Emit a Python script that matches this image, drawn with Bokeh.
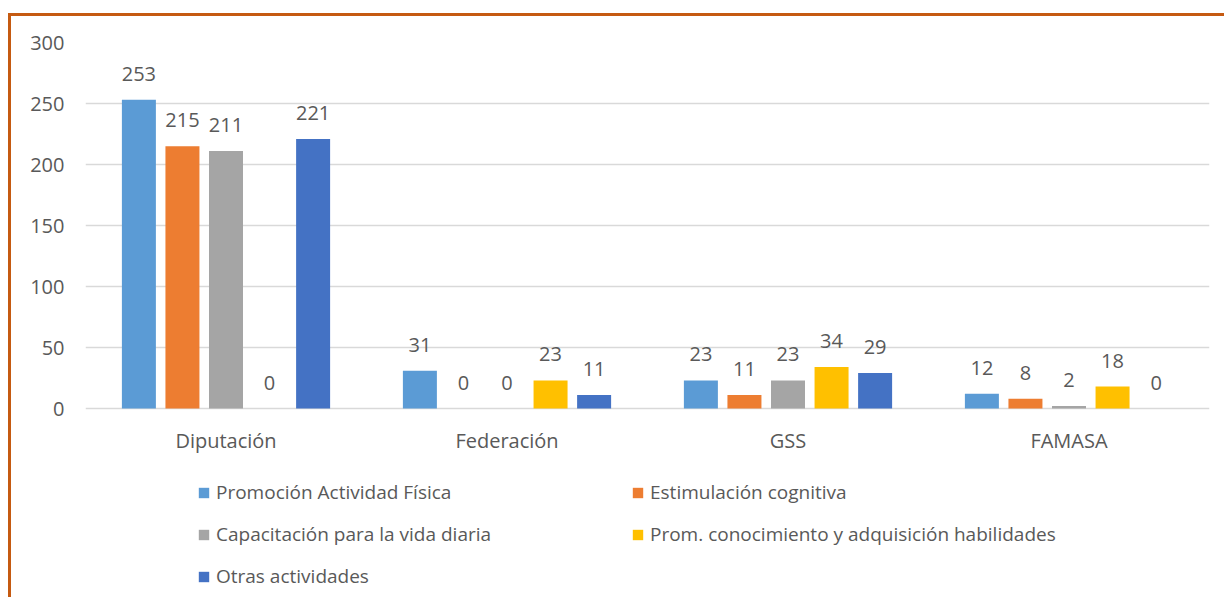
from bokeh.plotting import figure
from bokeh.models import (ColumnDataSource, FactorRange, Legend, LegendItem, LabelSet,
                          Range1d, FixedTicker)
from bokeh.core.properties import value
from bokeh.transform import dodge
from bokeh.embed import file_html
from bokeh.resources import INLINE

categories = ["Diputación", "Federación", "GSS", "FAMASA"]
series_names = ["Promoción Actividad Física", "Estimulación cognitiva",
                "Capacitación para la vida diaria",
                "Prom. conocimiento y adquisición habilidades", "Otras actividades"]
promocion = [253, 31, 23, 12]
estimulacion = [215, 0, 11, 8]
capacitacion = [211, 0, 23, 2]
conocimiento = [0, 23, 34, 18]
otras = [221, 11, 29, 0]
y_ticks = [0, 50, 100, 150, 200, 250, 300]

colors = ["#5B9BD5", "#ED7D31", "#A5A5A5", "#FFC000", "#4472C4"]
keys = ["promocion", "estimulacion", "capacitacion", "conocimiento", "otras"]
values = [promocion, estimulacion, capacitacion, conocimiento, otras]
offsets = [-0.31, -0.155, 0.0, 0.155, 0.31]

data = {"cat": categories}
for k, v in zip(keys, values):
    data[k] = v
    data[k + "_lbl"] = [str(x) for x in v]
src = ColumnDataSource(data)

FONT = "Open Sans"
TXT = "#595959"
FS = "20px"

# layout: frame extends below the value axis so the legend fits inside it
H = 584
TOP = 26
PX_PER_UNIT = 366 / 300.0
frame_h = H - TOP
y_start = 300 - frame_h / PX_PER_UNIT

p = figure(width=1216, height=H, output_backend="svg", toolbar_location=None,
           x_range=FactorRange(factors=categories, range_padding=0),
           y_range=Range1d(y_start, 300),
           min_border_left=74, min_border_right=18, min_border_top=TOP, min_border_bottom=0)
p.styles = {"margin-left": "8px", "margin-top": "13px", "border-top": "3px solid #C55A11",
            "border-left": "3px solid #C55A11"}
p.outline_line_color = None
p.xgrid.grid_line_color = None
p.ygrid.grid_line_color = "#D9D9D9"
p.ygrid.grid_line_width = 1.5
p.yaxis.ticker = FixedTicker(ticks=y_ticks)
p.yaxis.axis_line_color = None
p.yaxis.major_tick_line_color = None
p.yaxis.minor_tick_line_color = None
p.yaxis.major_tick_out = 0
p.yaxis.major_tick_in = 0
p.yaxis.major_label_standoff = 21
p.xaxis.fixed_location = 0
p.xaxis.axis_line_color = None
p.xaxis.major_tick_line_color = None
p.xaxis.major_tick_out = 0
p.xaxis.major_tick_in = 0
p.xaxis.major_label_standoff = 18
for ax in (p.xaxis, p.yaxis):
    ax.major_label_text_font = FONT
    ax.major_label_text_font_size = FS
    ax.major_label_text_color = TXT

renderers = []
for k, c, off in zip(keys, colors, offsets):
    r = p.vbar(x=dodge("cat", off, range=p.x_range), top=k, width=0.121,
               source=src, fill_color=c, line_color=None)
    renderers.append(r)
    lbl = LabelSet(x=dodge("cat", off, range=p.x_range), y=k, text=k + "_lbl",
                   source=src, text_align="center", text_baseline="alphabetic",
                   y_offset=19, text_font=value(FONT), text_font_size=value(FS),
                   text_color=TXT)
    p.add_layout(lbl)

legend = Legend(items=[LegendItem(label=series_names[i], renderers=[renderers[i]])
                       for i in range(5)],
                location=(112, 11), orientation="horizontal", ncols=2,
                glyph_width=13, glyph_height=13, label_standoff=6,
                label_text_font=FONT, label_text_font_size="19px", label_text_color=TXT,
                label_height=26, label_width=399, spacing=16, padding=0, margin=0,
                border_line_color=None, background_fill_alpha=0)
p.add_layout(legend)

open("out.html", "w").write(file_html(p, INLINE))
